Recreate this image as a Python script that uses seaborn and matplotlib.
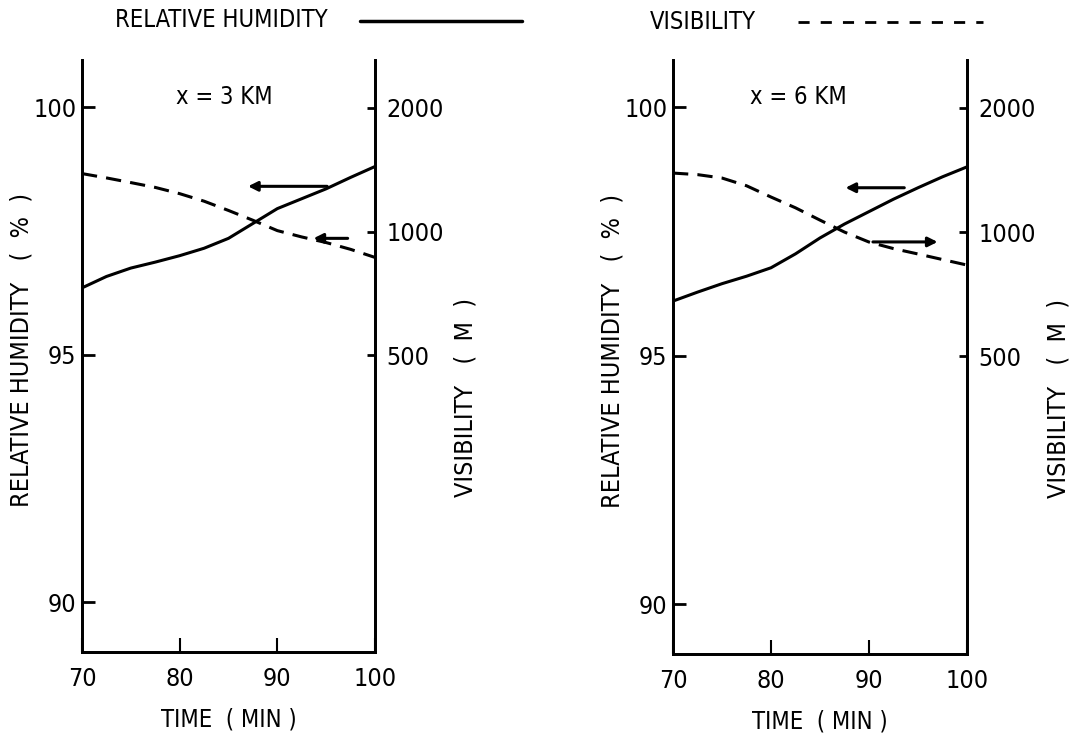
import numpy as np
import pandas as pd
import matplotlib
matplotlib.use("Agg")
import matplotlib.pyplot as plt
from matplotlib.lines import Line2D
from matplotlib import font_manager
import seaborn as sns

# time axis (min)
time = [70, 72.5, 75, 77.5, 80, 82.5, 85, 87.5, 90, 92.5, 95, 97.5, 100]

# x = 3 km
rh_3km = [96.35, 96.58, 96.75, 96.87, 97.0, 97.15, 97.35, 97.65, 97.95, 98.15, 98.35, 98.58, 98.8]
vis_3km = [1383, 1350, 1315, 1280, 1236, 1185, 1125, 1065, 1005, 970, 940, 905, 865]

# x = 6 km
rh_6km = [96.1, 96.28, 96.45, 96.6, 96.77, 97.05, 97.37, 97.65, 97.9, 98.15, 98.38, 98.6, 98.8]
vis_6km = [1390, 1378, 1352, 1295, 1216, 1145, 1069, 1000, 946, 912, 885, 858, 832]

panel_labels = ["x = 3 KM", "x = 6 KM"]
rh_ticks = [90, 95, 100]
vis_ticks = [500, 1000, 2000]
time_ticks = [70, 80, 90, 100]

sns.set_style("ticks")
names = {f.name for f in font_manager.fontManager.ttflist}
fam = [n for n in ['Liberation Sans Narrow', 'DejaVu Sans'] if n in names]
plt.rcParams['font.family'] = fam
plt.rcParams['font.stretch'] = 'condensed'
plt.rcParams['axes.linewidth'] = 2.0
for k in ['text.color', 'axes.labelcolor', 'xtick.color', 'ytick.color', 'axes.edgecolor']:
    plt.rcParams[k] = 'black'

fig = plt.figure(figsize=(10.71, 7.35), dpi=100)

panels = [
    dict(rect=[82/1071, 1-652/735, 293/1071, 592/735], rh=rh_3km, vis=vis_3km,
         label=panel_labels[0], label_x=84.6,
         arrows=[(95.1, 87.0, 98.40), (97.2, 93.7, 97.35)]),
    dict(rect=[673/1071, 1-654/735, 294/1071, 594/735], rh=rh_6km, vis=vis_6km,
         label=panel_labels[1], label_x=82.8,
         arrows=[(93.6, 87.6, 98.38), (90.4, 97.0, 97.29)]),
]

for p in panels:
    ax = fig.add_axes(p["rect"])
    df = pd.DataFrame({"time": time, "rh": p["rh"], "vis": p["vis"]})

    sns.lineplot(data=df, x="time", y="rh", ax=ax, color="black", lw=2.2)
    ax.set_xlim(70, 100)
    ax.set_ylim(89.0, 100.95)
    ax.set_xticks(time_ticks)
    ax.set_yticks(rh_ticks)
    ax.tick_params(axis="y", direction="in", length=9, width=2, labelsize=18, pad=4)
    ax.tick_params(axis="x", direction="in", length=10, width=1.5, labelsize=18, pad=11)
    ax.spines["top"].set_visible(False)
    ax.set_xlabel("TIME  ( MIN )", fontsize=17, labelpad=12)
    ax.set_ylabel("RELATIVE HUMIDITY   (  %  )", fontsize=18, ha="center", va="center")
    ax.yaxis.set_label_coords(-0.205, 0.51)

    ax.text(p["label_x"], 100.2, p["label"], fontsize=17, ha="center", va="center")

    for x0, x1, y in p["arrows"]:
        ax.annotate("", xy=(x1, y), xytext=(x0, y),
                    arrowprops=dict(arrowstyle="-|>", lw=2.2, color="black",
                                    mutation_scale=14, shrinkA=0, shrinkB=0))

    ax2 = ax.twinx()
    sns.lineplot(data=df, x="time", y="vis", ax=ax2, color="black", lw=2.2,
                 dashes=False, linestyle=(0, (5, 3)))
    ax2.set_yscale("log")
    ax2.set_ylim(95, 2612)
    ax2.set_yticks(vis_ticks)
    ax2.set_yticklabels([str(v) for v in vis_ticks])
    ax2.yaxis.set_minor_locator(matplotlib.ticker.NullLocator())
    ax2.tick_params(axis="y", direction="in", length=6, width=2, labelsize=18, pad=8)
    ax2.spines["top"].set_visible(False)
    ax2.set_ylabel("VISIBILITY   (  M  )", fontsize=18, ha="center", va="center")
    ax2.yaxis.set_label_coords(1.31, 0.43)

# legend keys along the top
fig.text(115/1071, 1-20/735, "RELATIVE HUMIDITY", fontsize=17, ha="left", va="center")
fig.add_artist(Line2D([360/1071, 522/1071], [1-21/735, 1-21/735], color="black", lw=2.5))
fig.text(650/1071, 1-22/735, "VISIBILITY", fontsize=17, ha="left", va="center")
fig.add_artist(Line2D([798/1071, 983/1071], [1-22/735, 1-22/735], color="black", lw=2.0,
                      linestyle=(0, (4, 4))))

fig.savefig("out.png", dpi=100)
